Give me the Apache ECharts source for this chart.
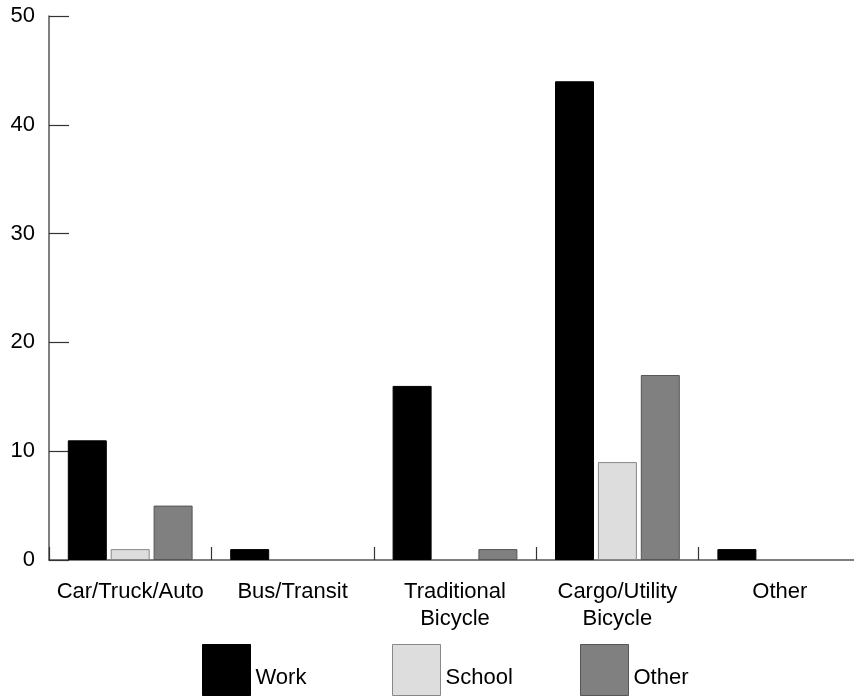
<!DOCTYPE html>
<html><head><meta charset="utf-8">
<script src="https://cdn.jsdelivr.net/npm/echarts@6/dist/echarts.min.js"></script>
<style>html,body{margin:0;padding:0;background:#fff}#c{width:854px;height:698px}</style>
</head><body><div id="c"></div>
<script>
const categories = ['Car/Truck/Auto', 'Bus/Transit', 'Traditional\nBicycle', 'Cargo/Utility\nBicycle', 'Other'];
const seriesNames = ['Work', 'School', 'Other'];
const work = [11, 1, 16, 44, 1];
const school = [1, 0, 0, 9, 0];
const other = [5, 0, 1, 17, 0];
const yTicks = [0, 10, 20, 30, 40, 50];

const values = [work, school, other];
const fills = ['#000000', '#dddddd', '#808080'];
const borders = ['#000000', '#888888', '#555555'];
const legendLeft = [202, 392, 580];
const font = 'Liberation Sans, Arial, Helvetica, sans-serif';

const chart = echarts.init(document.getElementById('c'));
chart.setOption({
  animation: false,
  backgroundColor: '#ffffff',
  grid: { left: 49, width: 812, top: 16, bottom: 138, containLabel: false, outerBoundsMode: 'none' },
  legend: seriesNames.map((n, i) => ({
    left: legendLeft[i] - 5, top: 639, itemWidth: 48, itemHeight: 51,
    icon: 'rect',
    data: [{ name: n, itemStyle: { color: fills[i], borderColor: borders[i], borderWidth: 1 } }],
    formatter: '{a|{name}}',
    textStyle: { fontFamily: font, fontSize: 22, color: '#000',
      rich: { a: { fontFamily: font, fontSize: 22, color: '#000', padding: [16, 0, 0, 0] } } },
    selectedMode: false
  })),
  xAxis: {
    type: 'category', data: categories,
    axisLine: { lineStyle: { color: '#555', width: 1.5 } },
    axisTick: { show: true, inside: true, length: 13, interval: 0, lineStyle: { color: '#333', width: 1.2 } },
    axisLabel: { fontFamily: font, fontSize: 22, color: '#000', margin: 18, lineHeight: 27, interval: 0 }
  },
  yAxis: {
    type: 'value', min: yTicks[0], max: yTicks[yTicks.length - 1], interval: 10,
    splitLine: { show: false },
    axisLine: { show: true, lineStyle: { color: '#555', width: 1.5 } },
    axisTick: { show: true, inside: true, length: 20, lineStyle: { color: '#333', width: 1.2 } },
    axisLabel: { fontFamily: font, fontSize: 22, color: '#000', margin: 14 }
  },
  series: seriesNames.map((n, i) => ({
    name: n, type: 'bar', barWidth: 39, barGap: '10%',
    data: values[i].map(v => v === 0 ? '-' : v),
    itemStyle: { color: fills[i], borderColor: borders[i], borderWidth: 1 }
  }))
});
</script></body></html>
